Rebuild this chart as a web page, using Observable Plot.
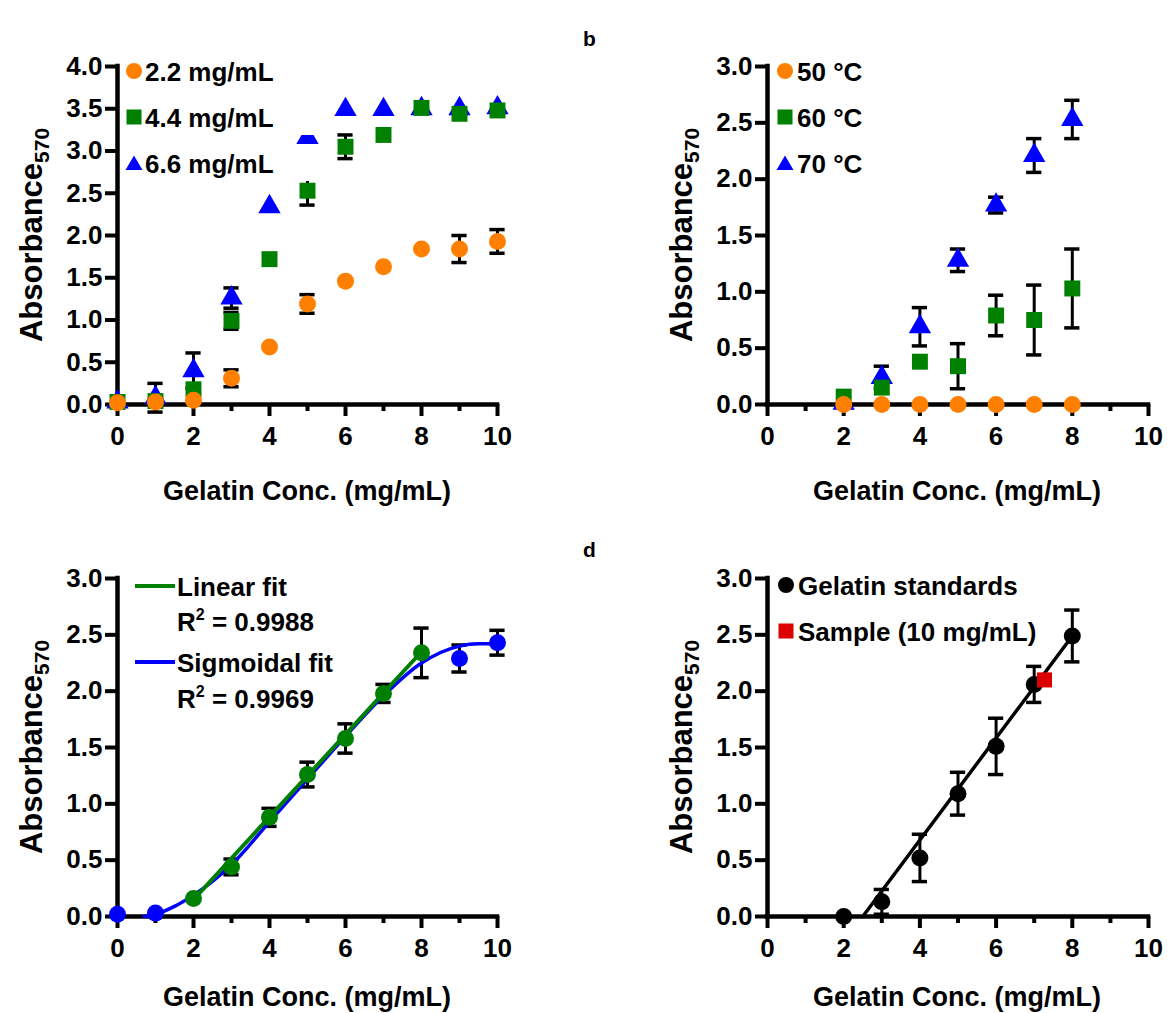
<!DOCTYPE html>
<html><head><meta charset="utf-8">
<script src="https://cdn.jsdelivr.net/npm/d3@7"></script>
<script src="https://cdn.jsdelivr.net/npm/@observablehq/plot@0.6"></script>
<style>
body{margin:0;background:#fff;}
#root{position:relative;width:1167px;height:1013px;overflow:hidden;font-family:"Liberation Sans",Arial,Helvetica,sans-serif;font-weight:bold;color:#000;background:#fff;}
.abs{position:absolute;white-space:nowrap;line-height:1;}
</style></head><body><div id="root"></div>
<script>
const FONT = '"Liberation Sans", Arial, Helvetica, sans-serif';
const ORANGE = "#FF8000", GREEN = "#008000", BLUE = "#0000FF", RED = "#DD0000", BLACK = "#000000";

// tick labels
const xMajor = [0, 2, 4, 6, 8, 10];
const xMinor = [1, 3, 5, 7, 9];
const yTicks4 = [0, 0.5, 1, 1.5, 2, 2.5, 3, 3.5, 4];
const yTicks3 = [0, 0.5, 1, 1.5, 2, 2.5, 3];
const xTitle = "Gelatin Conc. (mg/mL)";

// panel a: gelatin concentration series
const concA = [0, 1, 2, 3, 4, 5, 6, 7, 8, 9, 10];
const a22 = [0.02, 0.03, 0.05, 0.31, 0.68, 1.19, 1.46, 1.63, 1.84, 1.84, 1.93];
const a22err = [0, 0, 0, 0.10, 0, 0.11, 0, 0, 0, 0.16, 0.14];
const a44 = [0.03, 0.04, 0.18, 0.99, 1.72, 2.53, 3.05, 3.19, 3.51, 3.44, 3.48];
const a44err = [0, 0, 0, 0.10, 0, 0.17, 0.14, 0, 0, 0, 0];
const a66 = [0.03, 0.08, 0.40, 1.26, 2.34, 3.16, 3.49, 3.49, 3.50, 3.50, 3.51];
const a66err = [0, 0.17, 0.21, 0.12, 0, 0.05, 0, 0, 0, 0, 0];
const legendA = ["2.2 mg/mL", "4.4 mg/mL", "6.6 mg/mL"];

// panel b: temperature series
const concB = [2, 3, 4, 5, 6, 7, 8];
const b50 = [0, 0, 0, 0, 0, 0, 0];
const b60 = [0.07, 0.15, 0.38, 0.34, 0.79, 0.75, 1.03];
const b60err = [0, 0, 0, 0.20, 0.18, 0.31, 0.35];
const b70 = [0.01, 0.24, 0.69, 1.28, 1.77, 2.21, 2.53];
const b70err = [0, 0.10, 0.17, 0.10, 0.07, 0.15, 0.17];
const legendB = ["50 °C", "60 °C", "70 °C"];

// panel c: fits
const cBlueX = [0, 1, 9, 10];
const cBlueY = [0.02, 0.03, 2.29, 2.43];
const cBlueErr = [0, 0, 0.12, 0.11];
const cGreenX = [2, 3, 4, 5, 6, 7, 8];
const cGreenY = [0.16, 0.44, 0.88, 1.26, 1.58, 1.98, 2.34];
const cGreenErr = [0, 0.07, 0.08, 0.11, 0.13, 0.08, 0.22];
const linFitX = [2, 8];
const linFitY = [0.15, 2.35];
const sigFitX = [0.7, 1, 1.5, 2, 3, 4, 5, 6, 7, 8, 9, 9.5, 10];
const sigFitY = [0, 0.02, 0.09, 0.19, 0.46, 0.84, 1.22, 1.60, 1.96, 2.25, 2.40, 2.42, 2.42];

// panel d: standards and sample
const dX = [2, 3, 4, 5, 6, 7, 8];
const dY = [0.0, 0.13, 0.52, 1.09, 1.51, 2.06, 2.49];
const dErr = [0, 0.11, 0.21, 0.19, 0.25, 0.16, 0.23];
const sampleX = [7.27];
const sampleY = [2.10];
const dFitX = [2.5, 8];
const dFitY = [0, 2.49];
const legendD = ["Gelatin standards", "Sample (10 mg/mL)"];

const root = document.getElementById("root");
const zip = (xs, ys, es) => xs.map((x, i) => ({x, y: ys[i], e: es ? es[i] : 0}));

function errorBars(data, cap = 0.2) {
  const d = data.filter(p => p.e > 0);
  return [
    Plot.ruleX(d, {x: "x", y1: p => p.y - p.e, y2: p => p.y + p.e, stroke: BLACK, strokeWidth: 3}),
    Plot.ruleY(d, {y: p => p.y + p.e, x1: p => p.x - cap, x2: p => p.x + cap, stroke: BLACK, strokeWidth: 3.5}),
    Plot.ruleY(d, {y: p => p.y - p.e, x1: p => p.x - cap, x2: p => p.x + cap, stroke: BLACK, strokeWidth: 3.5})
  ];
}
function series(data, fill, symbol) {
  const r = symbol === "circle" ? 8.5 : symbol === "square" ? 9 : 8.3;
  return [...errorBars(data), Plot.dot(data, {x: "x", y: "y", fill, symbol, r, stroke: "none"})];
}

function panel(cfg) {
  const svg = Plot.plot({
    width: cfg.w, height: cfg.h,
    marginLeft: cfg.mL, marginRight: cfg.mR, marginTop: cfg.mT, marginBottom: cfg.mB,
    x: {type: "linear", domain: [0, 10]},
    y: {type: "linear", domain: [0, cfg.yMax]},
    style: {fontFamily: FONT, fontSize: "26px", fontWeight: "bold", color: "#000", background: "transparent", overflow: "visible"},
    marks: [
      Plot.axisX({ticks: xMajor, tickSize: 12, tickPadding: 10, strokeWidth: 4, label: null, tickFormat: d => String(d)}),
      Plot.axisX({ticks: xMinor, tickSize: 7, strokeWidth: 4, label: null, tickFormat: () => ""}),
      Plot.axisY({ticks: cfg.yTicks, tickSize: 12, tickPadding: 3, strokeWidth: 4, label: null, tickFormat: d => d.toFixed(1)}),
      Plot.ruleY([0], {strokeWidth: 4.5, strokeLinecap: "square"}),
      Plot.ruleX([0], {strokeWidth: 4.5, strokeLinecap: "square"}),
      ...cfg.marks
    ]
  });
  svg.style.position = "absolute";
  svg.style.left = cfg.left + "px";
  svg.style.top = cfg.top + "px";
  root.appendChild(svg);
}

function addText(html, x, y, size, transform = "translate(0,-50%)") {
  const d = document.createElement("div");
  d.className = "abs";
  d.innerHTML = html;
  d.style.fontSize = size + "px";
  d.style.left = x + "px";
  d.style.top = y + "px";
  d.style.transform = transform;
  root.appendChild(d);
  return d;
}
function addBox(x, y, w, h) {
  const d = document.createElement("div");
  d.className = "abs";
  Object.assign(d.style, {left: x + "px", top: y + "px", width: w + "px", height: h + "px", background: "#fff"});
  root.appendChild(d);
}
function symbolSVG(kind, color) {
  let shape;
  if (kind === "circle") shape = `<circle cx="10" cy="10" r="8" fill="${color}"/>`;
  else if (kind === "square") shape = `<rect x="2.5" y="2.5" width="15" height="15" fill="${color}"/>`;
  else if (kind === "triangle") shape = `<polygon points="10,2.5 18.5,17 1.5,17" fill="${color}"/>`;
  else shape = `<line x1="0" y1="10" x2="40" y2="10" stroke="${color}" stroke-width="4"/>`;
  const w = kind === "line" ? 40 : 20;
  return `<svg width="${w}" height="20" style="display:block">${shape}</svg>`;
}
function legendSymbol(kind, color, cx, cy) {
  const d = document.createElement("div");
  d.className = "abs";
  d.innerHTML = symbolSVG(kind, color);
  const w = kind === "line" ? 40 : 20;
  d.style.left = (cx - w / 2) + "px";
  d.style.top = (cy - 10) + "px";
  root.appendChild(d);
}
function yTitle(cx, cy) {
  addText(`Absorbance<span style="font-size:21px;position:relative;top:7px">570</span>`, cx, cy, 31, "translate(-50%,-50%) rotate(-90deg)");
}
function xTitleAt(cx, cy) {
  addText(xTitle, cx, cy, 27, "translate(-50%,-50%)");
}

// ---------- Panel a ----------
panel({
  left: 0, top: 0, w: 583, h: 506, mL: 117, mR: 86, mT: 66, mB: 102, yMax: 4, yTicks: yTicks4,
  marks: [
    ...series(zip(concA, a66, a66err), BLUE, "triangle"),
    ...series(zip(concA, a44, a44err), GREEN, "square"),
    ...series(zip(concA, a22, a22err), ORANGE, "circle")
  ]
});
// ---------- Panel b ----------
panel({
  left: 583, top: 0, w: 584, h: 506, mL: 184, mR: 19, mT: 66, mB: 102, yMax: 3, yTicks: yTicks3,
  marks: [
    ...series(zip(concB, b70, b70err), BLUE, "triangle"),
    ...series(zip(concB, b60, b60err), GREEN, "square"),
    ...series(zip(concB, b50), ORANGE, "circle")
  ]
});
// ---------- Panel c ----------
const cBlue = zip(cBlueX, cBlueY, cBlueErr), cGreen = zip(cGreenX, cGreenY, cGreenErr);
panel({
  left: 0, top: 506, w: 583, h: 507, mL: 117, mR: 86, mT: 72, mB: 97, yMax: 3, yTicks: yTicks3,
  marks: [
    ...errorBars(cBlue), ...errorBars(cGreen),
    Plot.line(zip(sigFitX, sigFitY), {x: "x", y: "y", stroke: BLUE, strokeWidth: 3.5, curve: "monotone-x"}),
    Plot.line(zip(linFitX, linFitY), {x: "x", y: "y", stroke: GREEN, strokeWidth: 4}),
    Plot.dot(cBlue, {x: "x", y: "y", fill: BLUE, r: 8.5}),
    Plot.dot(cGreen, {x: "x", y: "y", fill: GREEN, r: 8.5})
  ]
});
// ---------- Panel d ----------
const dStd = zip(dX, dY, dErr);
panel({
  left: 583, top: 506, w: 584, h: 507, mL: 184, mR: 19, mT: 72, mB: 97, yMax: 3, yTicks: yTicks3,
  marks: [
    ...errorBars(dStd),
    Plot.line(zip(dFitX, dFitY), {x: "x", y: "y", stroke: BLACK, strokeWidth: 3.5}),
    Plot.dot(dStd, {x: "x", y: "y", fill: BLACK, r: 8.5}),
    Plot.dot(zip(sampleX, sampleY), {x: "x", y: "y", fill: RED, symbol: "square", r: 8.5})
  ]
});

// ---------- Titles ----------
yTitle(31, 235); yTitle(681, 235); yTitle(31, 747); yTitle(681, 747);
xTitleAt(307, 491); xTitleAt(957, 491); xTitleAt(307, 997); xTitleAt(957, 997);
addText("b", 583, 38, 21);
addText("d", 583, 549, 21);

// ---------- Legends ----------
// panel a (white boxes behind the entries)
const rowsA = [71, 117, 163];
rowsA.forEach(cy => addBox(124, cy - 18, 200, 36));
const symA = [["circle", ORANGE], ["square", GREEN], ["triangle", BLUE]];
legendA.forEach((t, i) => { legendSymbol(symA[i][0], symA[i][1], 134, rowsA[i]); addText(t, 145, rowsA[i] + 1, 26); });
// panel b
const rowsB = [71, 117, 163];
legendB.forEach((t, i) => { legendSymbol(symA[i][0], symA[i][1], 785, rowsB[i]); addText(t, 797, rowsB[i] + 1, 26); });
// panel c
legendSymbol("line", GREEN, 155, 586); addText("Linear fit", 177, 587, 26);
addText(`R<sup style="font-size:16px;position:relative;top:-2px">2</sup> = 0.9988`, 177, 622, 26);
legendSymbol("line", BLUE, 155, 662); addText("Sigmoidal fit", 177, 663, 26);
addText(`R<sup style="font-size:16px;position:relative;top:-2px">2</sup> = 0.9969`, 177, 699, 26);
// panel d
legendSymbol("circle", BLACK, 786, 585); addText(legendD[0], 798, 586, 26);
legendSymbol("square", RED, 786, 631); addText(legendD[1], 798, 632, 26);
</script>
</body></html>
